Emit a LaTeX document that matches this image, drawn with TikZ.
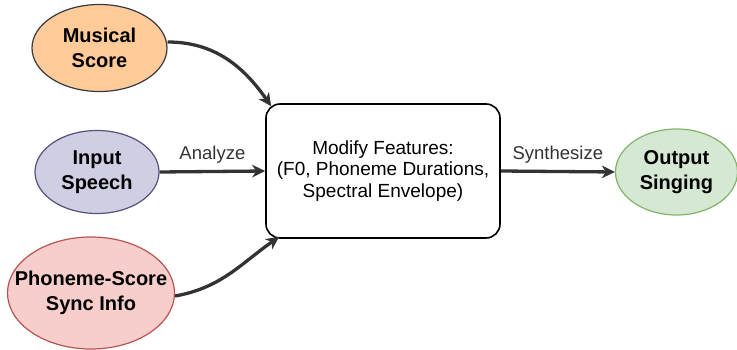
\documentclass[tikz,border=0pt]{standalone}
\usepackage{fontspec}
\setmainfont{Liberation Sans}
\usetikzlibrary{shapes.geometric,arrows.meta}
\definecolor{msfill}{HTML}{FFCC99}\definecolor{msdraw}{HTML}{36393D}
\definecolor{isfill}{HTML}{D0CEE2}\definecolor{isdraw}{HTML}{56517E}
\definecolor{psfill}{HTML}{F8CECC}\definecolor{psdraw}{HTML}{B85450}
\definecolor{osfill}{HTML}{D5E8D4}\definecolor{osdraw}{HTML}{82B366}
\definecolor{arr}{HTML}{333333}
\begin{document}
\begin{tikzpicture}[x=1pt,y=1pt,
  ell/.style={ellipse,draw,line width=1.2pt,inner sep=0pt},
  etext/.style={align=center,inner sep=0pt,font=\fontsize{20}{24.5}\selectfont\bfseries},
  proc/.style={draw,rounded corners=14pt,line width=1.6pt,align=center,inner sep=0pt,
    font=\fontsize{19}{21.8}\selectfont},
  conn/.style={line width=3.3pt,arr,-{Stealth[length=13pt,width=12.5pt,inset=4pt]}},
  lbl/.style={font=\fontsize{18.5}{21.5}\selectfont}]
\useasboundingbox (0,0) rectangle (737,349);
\node[ell,fill=msfill,draw=msdraw,minimum width=135,minimum height=87] (ms) at (99.5,301) {};
\node[etext] (mst) at (ms) {Musical\\Score};
\node[ell,fill=isfill,draw=isdraw,minimum width=124,minimum height=83] (is) at (97,177) {};
\node[etext] (ist) at (is) {Input\\Speech};
\node[ell,fill=psfill,draw=psdraw,minimum width=167,minimum height=112] (ps) at (91,56) {};
\node[etext] (pst) at (ps) {Phoneme-Score\\Sync Info};
\node[proc,minimum width=234,minimum height=134] (box) at (383,178) {Modify Features:\\(F0, Phoneme Durations,\\Spectral Envelope)};
\node[ell,fill=osfill,draw=osdraw,minimum width=122,minimum height=86] (os) at (676.5,177) {};
\node[etext] (ost) at (os) {Output\\Singing};
\coordinate (tin) at ([xshift=6pt,yshift=-3pt]box.north west);
\coordinate (bin) at ([xshift=14pt,yshift=2pt]box.south west);
\draw[conn] (ms.east) ++(0,6) to[out=0,in=125] (tin);
\draw[conn] (is.east) -- (box.west) node[lbl,midway,above=3pt] {Analyze};
\draw[conn] (ps.east) ++(0,-3) to[out=10,in=215] (bin);
\draw[conn] (box.east) -- (os.west) node[lbl,midway,above=3pt] {Synthesize};
\end{tikzpicture}
\end{document}
